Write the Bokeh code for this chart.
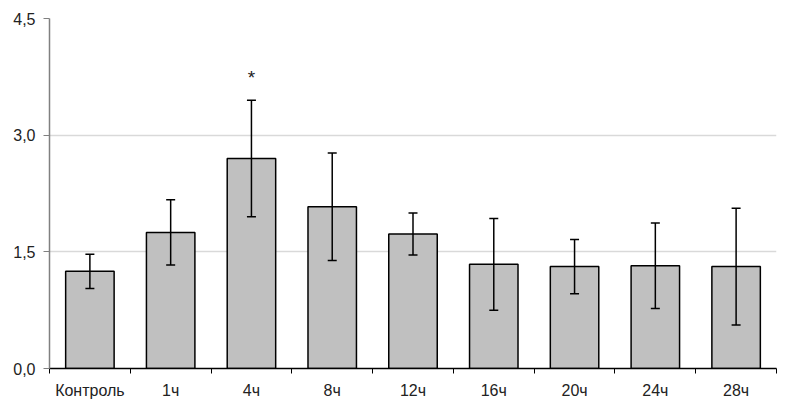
from bokeh.plotting import figure
from bokeh.models import Range1d, FixedTicker, ColumnDataSource, Whisker
from bokeh.embed import file_html
from bokeh.resources import INLINE
from bokeh.core.properties import value

categories = ["Контроль", "1ч", "4ч", "8ч", "12ч", "16ч", "20ч", "24ч", "28ч"]
means = [1.25, 1.75, 2.70, 2.08, 1.73, 1.34, 1.31, 1.32, 1.31]
errors = [0.22, 0.42, 0.75, 0.69, 0.27, 0.59, 0.35, 0.55, 0.75]
y_ticks = [0.0, 1.5, 3.0, 4.5]
y_tick_labels = ["0,0", "1,5", "3,0", "4,5"]
star_index = 2
star_value = 3.74

xs = [i + 0.5 for i in range(len(categories))]
src = ColumnDataSource(dict(
    x=xs, top=means,
    upper=[m + e for m, e in zip(means, errors)],
    lower=[m - e for m, e in zip(means, errors)],
))

FONT = "Liberation Sans"

p = figure(width=790, height=404, output_backend="svg", toolbar_location=None,
           x_range=Range1d(0, len(categories)), y_range=Range1d(0, 4.5),
           min_border_left=49, min_border_right=14, min_border_top=18, min_border_bottom=36)
p.outline_line_color = None
p.xgrid.grid_line_color = None
p.ygrid.grid_line_color = "#d9d9d9"
p.ygrid.grid_line_width = 1.5
p.ygrid.ticker = FixedTicker(ticks=y_ticks[1:])

p.vbar(x="x", top="top", width=0.6, bottom=0, source=src,
       fill_color="#c0c0c0", line_color="black", line_width=1.5)

w = Whisker(source=src, base="x", upper="upper", lower="lower",
            line_color="black", line_width=1.5, level="overlay")
w.upper_head.size = 9
w.lower_head.size = 9
w.upper_head.line_width = 1.5
w.lower_head.line_width = 1.5
w.upper_head.line_color = "black"
w.lower_head.line_color = "black"
p.add_layout(w)

p.text(x=[xs[star_index]], y=[star_value], text=["*"], text_align="center",
       text_baseline="middle", text_font=value(FONT), text_font_size="19px",
       text_color="#222222")

# x axis
p.xaxis.ticker = FixedTicker(ticks=xs, minor_ticks=list(range(len(categories) + 1)))
p.xaxis.major_label_overrides = {x: c for x, c in zip(xs, categories)}
p.xaxis.major_tick_line_color = None
p.xaxis.minor_tick_line_color = "black"
p.xaxis.minor_tick_out = 5
p.xaxis.minor_tick_in = 0
p.xaxis.axis_line_color = "black"
p.xaxis.axis_line_width = 1.5
p.xaxis.major_label_text_font = FONT
p.xaxis.major_label_text_font_size = "16px"
p.xaxis.major_label_text_color = "#222222"
p.xaxis.major_label_standoff = 7

# y axis
p.yaxis.ticker = FixedTicker(ticks=y_ticks)
p.yaxis.major_label_overrides = {t: l for t, l in zip(y_ticks, y_tick_labels)}
p.yaxis.minor_tick_line_color = None
p.yaxis.axis_line_color = "#808080"
p.yaxis.axis_line_width = 1.5
p.yaxis.major_tick_line_color = "#808080"
p.yaxis.major_tick_out = 6
p.yaxis.major_tick_in = 0
p.yaxis.major_label_text_font = FONT
p.yaxis.major_label_text_font_size = "16px"
p.yaxis.major_label_text_color = "#222222"
p.yaxis.major_label_standoff = 8

open("out.html", "w").write(file_html(p, INLINE))
